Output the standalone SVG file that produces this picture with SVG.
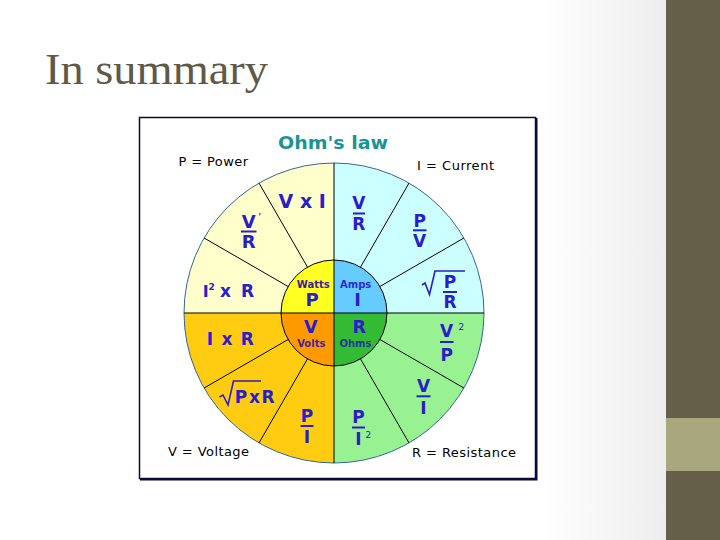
<svg xmlns="http://www.w3.org/2000/svg" width="720" height="540" viewBox="0 0 720 540">
<defs>
<linearGradient id="bg" x1="0" y1="0" x2="1" y2="0">
<stop offset="0" stop-color="#ffffff"/>
<stop offset="0.75" stop-color="#ffffff"/>
<stop offset="1" stop-color="#e6e6e6"/>
</linearGradient>
<style>
.lab{font-family:"DejaVu Sans",Verdana,sans-serif;font-weight:bold;fill:#2b1dc8;text-anchor:middle}
.f17{font-size:17px}
.f18{font-size:18px}
.sm{font-family:"DejaVu Sans",Verdana,sans-serif;font-weight:bold;font-size:10px;text-anchor:middle}
.sup{font-family:"DejaVu Sans",Verdana,sans-serif;font-size:9px;fill:#2b1dc8}
.def{font-family:"DejaVu Sans",Verdana,sans-serif;font-size:13px;fill:#000}
.bar{stroke:#2b1dc8;stroke-width:2}
.rad{fill:none;stroke:#2b1dc8;stroke-width:1.6}
.div{stroke:#000;stroke-width:1}
</style>
</defs>
<rect x="0" y="0" width="720" height="540" fill="url(#bg)"/>
<rect x="666" y="0" width="54" height="540" fill="#655e48"/>
<rect x="666" y="418" width="54" height="53" fill="#a9a77e"/>
<text x="45" y="83.5" font-family="Liberation Serif,serif" font-size="44" fill="#5f5a48" textLength="223" lengthAdjust="spacingAndGlyphs">In summary</text>

<g id="frame">
<rect x="139.5" y="117.5" width="396" height="361" fill="#ffffff" stroke="#0a0a3a" stroke-width="1.5"/>
<path d="M536.5,118 V479.5 H140" fill="none" stroke="#0a0a3a" stroke-width="2"/>
</g>

<g id="wheel">
<path d="M334,313 L184,313 A150,150 0 0 1 334,163 Z" fill="#ffffcc"/>
<path d="M334,313 L334,163 A150,150 0 0 1 484,313 Z" fill="#ccffff"/>
<path d="M334,313 L484,313 A150,150 0 0 1 334,463 Z" fill="#99f291"/>
<path d="M334,313 L334,463 A150,150 0 0 1 184,313 Z" fill="#ffcc11"/>
<circle cx="334" cy="313" r="150" fill="none" stroke="#336699" stroke-width="1"/>
<path d="M334,313 L281,313 A53,53 0 0 1 334,260 Z" fill="#ffff22"/>
<path d="M334,313 L334,260 A53,53 0 0 1 387,313 Z" fill="#66ccff"/>
<path d="M334,313 L387,313 A53,53 0 0 1 334,366 Z" fill="#33bb33"/>
<path d="M334,313 L334,366 A53,53 0 0 1 281,313 Z" fill="#ff9900"/>
<circle cx="334" cy="313" r="53" fill="none" stroke="#000" stroke-width="1"/>
</g>

<g id="connectors">
<line class="div" x1="184" y1="313" x2="484" y2="313"/>
<line class="div" x1="334" y1="163" x2="334" y2="463"/>
<line class="div" x1="379.9" y1="286.5" x2="463.9" y2="238"/>
<line class="div" x1="360.5" y1="267.1" x2="409" y2="183.1"/>
<line class="div" x1="307.5" y1="267.1" x2="259" y2="183.1"/>
<line class="div" x1="288.1" y1="286.5" x2="204.1" y2="238"/>
<line class="div" x1="288.1" y1="339.5" x2="204.1" y2="388"/>
<line class="div" x1="307.5" y1="358.9" x2="259" y2="442.9"/>
<line class="div" x1="360.5" y1="358.9" x2="409" y2="442.9"/>
<line class="div" x1="379.9" y1="339.5" x2="463.9" y2="388"/>
</g>

<g id="title">
<text x="278" y="149" font-family="DejaVu Sans,Verdana,sans-serif" font-weight="bold" font-size="18" fill="#189494" textLength="110" lengthAdjust="spacingAndGlyphs">Ohm's law</text>
</g>

<g id="legend-power"><text class="def" x="178.5" y="165.7" textLength="69.5" lengthAdjust="spacing">P = Power</text></g>
<g id="legend-current"><text class="def" x="417" y="170" textLength="77" lengthAdjust="spacing">I = Current</text></g>
<g id="legend-voltage"><text class="def" x="168" y="455.7" textLength="81" lengthAdjust="spacing">V = Voltage</text></g>
<g id="legend-resistance"><text class="def" x="412" y="456.7" textLength="104" lengthAdjust="spacing">R = Resistance</text></g>

<g id="p-vxi"><text class="lab" x="302.2" y="207.7" font-size="19">V x I</text></g>
<g id="p-v2r">
<text class="lab f18" x="248.7" y="228">V</text>
<text x="258" y="221" font-family="DejaVu Sans,sans-serif" font-size="11" fill="#2b1dc8">’</text>
<line class="bar" x1="241" y1="231.5" x2="256.5" y2="231.5"/>
<text class="lab f18" x="248.7" y="247.7">R</text>
</g>
<g id="p-i2r">
<text class="lab" x="202.7" y="296.7" font-size="16" style="text-anchor:start">I</text>
<text class="sup" x="208.5" y="289.5" font-weight="bold">2</text>
<text class="lab" x="220" y="296.7" font-size="17" style="text-anchor:start" textLength="34" lengthAdjust="spacing">x R</text>
</g>

<g id="v-ixr"><text class="lab" x="230.3" y="345" font-size="17" textLength="47" lengthAdjust="spacing">I x R</text></g>
<g id="v-sqrtpr">
<polyline class="rad" points="219.5,397 223,395 228,405 233.5,381 261,381"/>
<text class="lab" x="234.7" y="402.7" font-size="17" style="text-anchor:start" textLength="40" lengthAdjust="spacing">PxR</text>
</g>
<g id="v-pi">
<text class="lab f17" x="307" y="421.7">P</text>
<line class="bar" x1="300.5" y1="426" x2="313.5" y2="426"/>
<text class="lab f17" x="307" y="443.3">I</text>
</g>

<g id="i-vr">
<text class="lab f17" x="358.8" y="209.3">V</text>
<line class="bar" x1="353" y1="213.5" x2="365" y2="213.5"/>
<text class="lab f17" x="358.8" y="230">R</text>
</g>
<g id="i-pv">
<text class="lab f17" x="419.7" y="226.7">P</text>
<line class="bar" x1="413" y1="230.3" x2="426.5" y2="230.3"/>
<text class="lab f17" x="419.7" y="246.7">V</text>
</g>
<g id="i-sqrtpr">
<polyline class="rad" points="422,285 425,283 429.5,294.5 435,271 465,271"/>
<text class="lab f17" x="450" y="288.3">P</text>
<line class="bar" x1="443" y1="292" x2="457" y2="292"/>
<text class="lab f17" x="450" y="308.3">R</text>
</g>

<g id="r-v2p">
<text class="lab f17" x="446.7" y="336.7">V</text>
<text class="sup" x="458.5" y="329.5">2</text>
<line class="bar" x1="440" y1="342" x2="453.5" y2="342"/>
<text class="lab f17" x="446.7" y="360.7">P</text>
</g>
<g id="r-vi">
<text class="lab f17" x="423.5" y="391.7">V</text>
<line class="bar" x1="416.5" y1="396.3" x2="430.5" y2="396.3"/>
<text class="lab f17" x="423.5" y="414.3">I</text>
</g>
<g id="r-pi2">
<text class="lab f17" x="358.5" y="423.3">P</text>
<line class="bar" x1="352" y1="427.5" x2="365" y2="427.5"/>
<text class="lab f17" x="358.5" y="445">I</text>
<text class="sup" x="365.5" y="438">2</text>
</g>

<g id="center-p">
<text class="sm" x="313.3" y="287.7" fill="#3d209e">Watts</text>
<text class="lab f18" x="312.2" y="305.7">P</text>
</g>
<g id="center-i">
<text class="sm" x="355.7" y="287.7" fill="#2a2ad8">Amps</text>
<text class="lab f18" x="357.7" y="305.7">I</text>
</g>
<g id="center-v">
<text class="lab" x="310.7" y="333" font-size="17.5">V</text>
<text class="sm" x="311.3" y="346.5" fill="#4a1e9a">Volts</text>
</g>
<g id="center-r">
<text class="lab" x="359.3" y="333" font-size="17.5" fill="#1e2a9e">R</text>
<text class="sm" x="355.5" y="346.5" fill="#1e3a90">Ohms</text>
</g>
</svg>
